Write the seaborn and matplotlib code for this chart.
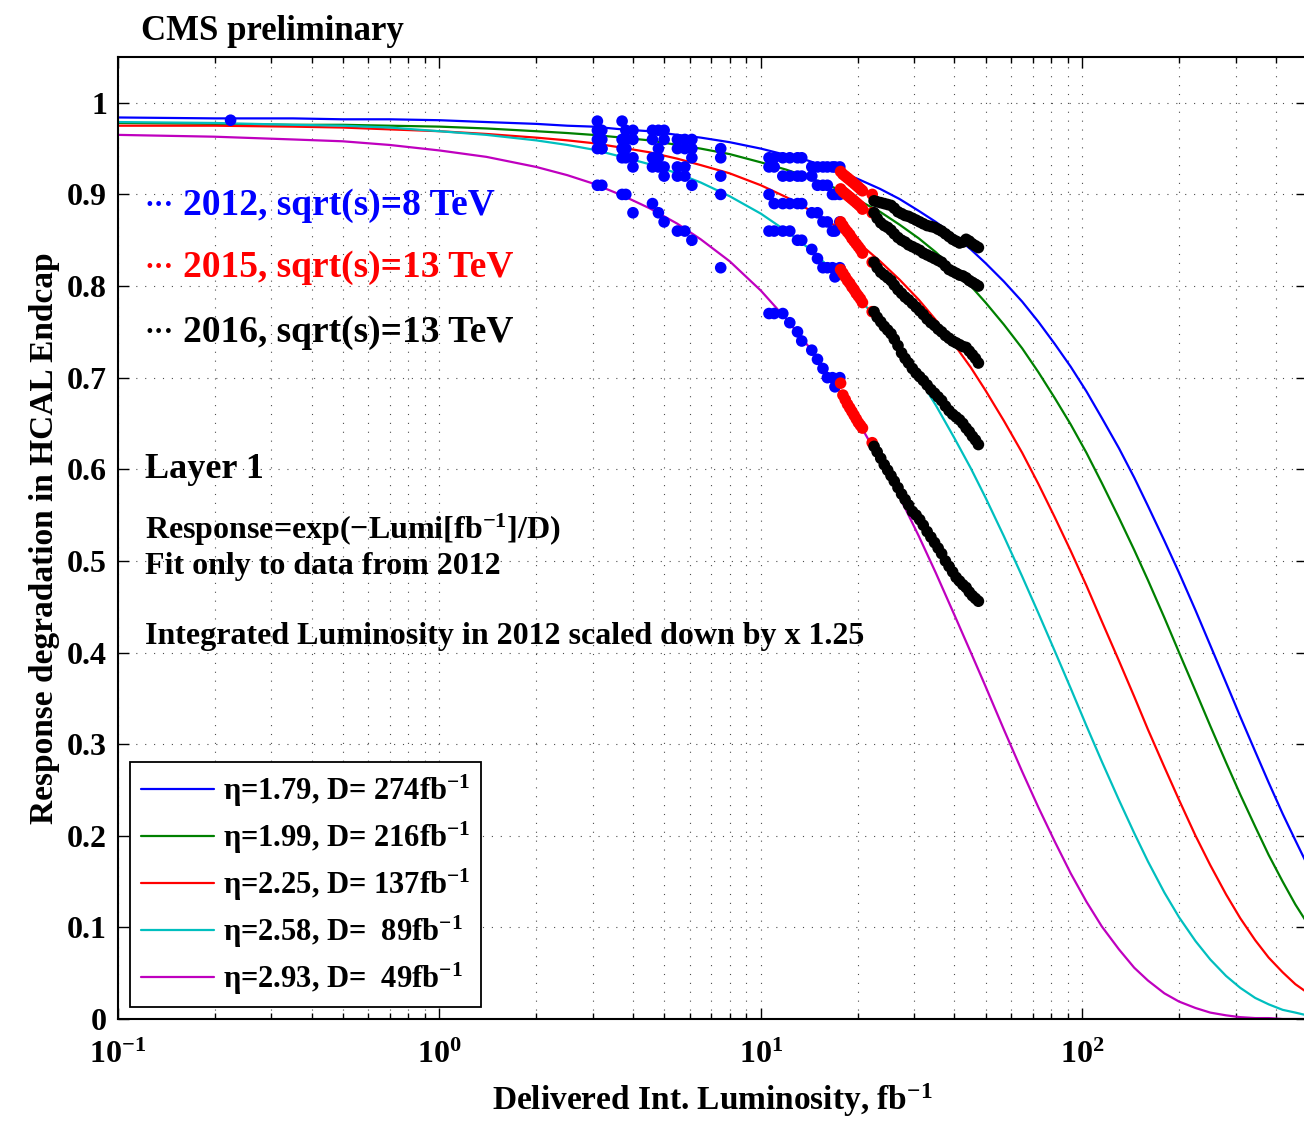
import matplotlib
matplotlib.use("Agg")
import matplotlib.pyplot as plt
from matplotlib.lines import Line2D
from matplotlib.ticker import LogLocator, NullLocator
import seaborn as sns
import pandas as pd

# fitted curves
lumi_curve = [0.1, 0.2, 0.35, 0.5, 0.7, 1, 1.4, 2, 2.5, 3,
              3.7, 4.5, 5.5, 6.5, 8, 10, 12, 14, 17, 20,
              23.5, 27, 31, 35, 40, 45, 50, 57, 65, 73,
              82, 92, 103, 115, 130, 145, 160, 180, 200, 225,
              250, 280, 310, 345, 380, 420, 460, 500]
fit_179 = [0.984, 0.983, 0.983, 0.982, 0.982, 0.981, 0.979, 0.977, 0.975, 0.974,
           0.971, 0.969, 0.965, 0.962, 0.957, 0.950, 0.943, 0.937, 0.927, 0.917,
           0.906, 0.895, 0.882, 0.870, 0.855, 0.840, 0.825, 0.805, 0.783, 0.761,
           0.737, 0.712, 0.685, 0.656, 0.623, 0.591, 0.560, 0.522, 0.487, 0.446,
           0.408, 0.367, 0.330, 0.292, 0.258, 0.224, 0.195, 0.169]
fit_199 = [0.978, 0.977, 0.976, 0.976, 0.975, 0.974, 0.972, 0.969, 0.967, 0.965,
           0.962, 0.959, 0.954, 0.950, 0.944, 0.935, 0.927, 0.919, 0.907, 0.894,
           0.881, 0.867, 0.852, 0.837, 0.818, 0.800, 0.782, 0.758, 0.732, 0.706,
           0.678, 0.649, 0.618, 0.585, 0.547, 0.512, 0.479, 0.438, 0.400, 0.358,
           0.320, 0.280, 0.245, 0.210, 0.179, 0.150, 0.125, 0.105]
fit_225 = [0.975, 0.975, 0.974, 0.973, 0.971, 0.969, 0.966, 0.962, 0.959, 0.956,
           0.951, 0.946, 0.939, 0.932, 0.923, 0.910, 0.897, 0.884, 0.866, 0.848,
           0.827, 0.807, 0.785, 0.763, 0.736, 0.711, 0.686, 0.653, 0.618, 0.584,
           0.548, 0.511, 0.473, 0.434, 0.391, 0.352, 0.316, 0.275, 0.239, 0.200,
           0.168, 0.136, 0.110, 0.086, 0.067, 0.051, 0.038, 0.029]
fit_258 = [0.979, 0.978, 0.976, 0.975, 0.973, 0.969, 0.965, 0.959, 0.954, 0.949,
           0.941, 0.933, 0.923, 0.913, 0.898, 0.879, 0.860, 0.842, 0.815, 0.789,
           0.759, 0.731, 0.700, 0.670, 0.634, 0.601, 0.569, 0.527, 0.483, 0.443,
           0.402, 0.361, 0.320, 0.281, 0.239, 0.203, 0.172, 0.138, 0.111, 0.085,
           0.065, 0.047, 0.034, 0.023, 0.016, 0.010, 0.007, 0.004]
fit_293 = [0.965, 0.963, 0.960, 0.958, 0.954, 0.948, 0.941, 0.930, 0.921, 0.912,
           0.899, 0.885, 0.868, 0.851, 0.827, 0.795, 0.764, 0.735, 0.693, 0.653,
           0.610, 0.570, 0.527, 0.487, 0.441, 0.400, 0.363, 0.316, 0.270, 0.231,
           0.194, 0.159, 0.128, 0.101, 0.076, 0.056, 0.042, 0.028, 0.019, 0.012,
           0.007, 0.004, 0.002, 0.001, 0.001, 0.000, 0.000, 0.000]

fit_labels = ["η=1.79, D= 274fb$^{-1}$", "η=1.99, D= 216fb$^{-1}$", "η=2.25, D= 137fb$^{-1}$",
              "η=2.58, D=  89fb$^{-1}$", "η=2.93, D=  49fb$^{-1}$"]
fit_colors = ["#0000ff", "#008000", "#ff0000", "#00bfbf", "#bf00bf"]

# 2012 data (one early point + common lumi values)
lumi_early = [0.224]
resp_early = [0.981]
lumi_2012 = [3.1, 3.2, 3.7, 3.8, 4.0, 4.6, 4.8, 5.0, 5.5, 5.8, 6.1, 7.5, 10.6, 11.0, 11.7, 12.3,
             13.0, 13.4, 14.4, 15.0, 15.6, 16.1, 16.7, 17.0, 17.6]
d2012_179 = [0.98, 0.97, 0.98, 0.97, 0.97, 0.97, 0.97, 0.97, 0.96, 0.96, 0.96, 0.95, 0.94, 0.94, 0.94,
             0.94, 0.94, 0.94, 0.93, 0.93, 0.93, 0.93, 0.93, 0.93, 0.93]
d2012_199 = [0.97, 0.96, 0.96, 0.96, 0.96, 0.96, 0.95, 0.96, 0.95, 0.95, 0.95, 0.94, 0.93, 0.93, 0.92,
             0.92, 0.92, 0.92, 0.92, 0.91, 0.91, 0.91, 0.90, 0.90, 0.90]
d2012_225 = [0.96, 0.95, 0.95, 0.95, 0.94, 0.94, 0.94, 0.93, 0.93, 0.93, 0.94, 0.92, 0.90, 0.89, 0.89,
             0.89, 0.89, 0.89, 0.88, 0.88, 0.87, 0.87, 0.86, 0.86, 0.87]
d2012_258 = [0.95, 0.95, 0.94, 0.94, 0.93, 0.93, 0.93, 0.92, 0.92, 0.92, 0.91, 0.90, 0.86, 0.86, 0.86,
             0.86, 0.85, 0.85, 0.84, 0.83, 0.82, 0.82, 0.82, 0.81, 0.82]
d2012_293 = [0.91, 0.91, 0.90, 0.90, 0.88, 0.89, 0.88, 0.87, 0.86, 0.86, 0.85, 0.82, 0.77, 0.77, 0.77,
             0.76, 0.75, 0.74, 0.73, 0.72, 0.71, 0.70, 0.70, 0.69, 0.70]

# 2015 data
lumi_2015 = [17.7, 18.0, 18.3, 18.6, 18.9, 19.2, 19.5, 19.8, 20.1, 20.4, 20.7, 22.2]
d2015_179 = [0.925, 0.922, 0.920, 0.918, 0.916, 0.914, 0.912, 0.910, 0.908, 0.906, 0.904, 0.900]
d2015_199 = [0.906, 0.903, 0.901, 0.899, 0.897, 0.895, 0.893, 0.891, 0.889, 0.887, 0.884, 0.880]
d2015_225 = [0.870, 0.866, 0.862, 0.859, 0.856, 0.852, 0.849, 0.846, 0.843, 0.840, 0.836, 0.826]
d2015_258 = [0.818, 0.814, 0.810, 0.806, 0.803, 0.799, 0.796, 0.792, 0.789, 0.786, 0.782, 0.772]
d2015_293 = [0.694, 0.681, 0.676, 0.671, 0.667, 0.663, 0.659, 0.655, 0.651, 0.648, 0.645, 0.629]

# 2016 data
lumi_2016 = [22.5, 23.0, 23.6, 24.2, 24.8, 25.4, 26.0, 26.7, 27.4, 28.1, 28.8, 29.6, 30.4, 31.2, 32.0,
             32.9, 33.8, 34.7, 35.6, 36.5, 37.5, 38.5, 39.5, 40.5, 41.5, 42.5, 43.5, 44.5, 45.5, 46.5, 47.5]
d2016_179 = [0.893, 0.892, 0.891, 0.890, 0.889, 0.888, 0.885, 0.881, 0.879, 0.877, 0.876, 0.874, 0.872,
             0.870, 0.868, 0.866, 0.865, 0.864, 0.862, 0.860, 0.857, 0.854, 0.851, 0.849, 0.847, 0.848,
             0.851, 0.849, 0.846, 0.844, 0.842]
d2016_199 = [0.880, 0.874, 0.869, 0.866, 0.864, 0.861, 0.857, 0.853, 0.850, 0.848, 0.845, 0.843, 0.841,
             0.839, 0.836, 0.834, 0.832, 0.830, 0.828, 0.826, 0.822, 0.818, 0.816, 0.814, 0.812, 0.811,
             0.809, 0.806, 0.804, 0.802, 0.800]
d2016_225 = [0.826, 0.820, 0.815, 0.812, 0.809, 0.806, 0.801, 0.796, 0.792, 0.788, 0.785, 0.781, 0.777,
             0.773, 0.769, 0.764, 0.760, 0.757, 0.753, 0.750, 0.746, 0.743, 0.740, 0.738, 0.736, 0.734,
             0.733, 0.729, 0.725, 0.721, 0.716]
d2016_258 = [0.772, 0.766, 0.761, 0.756, 0.752, 0.748, 0.742, 0.735, 0.727, 0.721, 0.716, 0.710, 0.705,
             0.701, 0.697, 0.692, 0.687, 0.683, 0.679, 0.675, 0.669, 0.664, 0.660, 0.657, 0.654, 0.650,
             0.645, 0.641, 0.636, 0.632, 0.627]
d2016_293 = [0.625, 0.619, 0.612, 0.605, 0.599, 0.593, 0.587, 0.580, 0.573, 0.567, 0.561, 0.554, 0.550,
             0.545, 0.539, 0.532, 0.526, 0.520, 0.514, 0.508, 0.500, 0.494, 0.488, 0.482, 0.478, 0.474,
             0.471, 0.466, 0.462, 0.459, 0.456]

# long tables for seaborn
curves = pd.concat([pd.DataFrame({"lumi": lumi_curve, "resp": r, "fit": lab})
                    for r, lab in zip([fit_179, fit_199, fit_225, fit_258, fit_293], fit_labels)])

frames = [pd.DataFrame({"lumi": lumi_early, "resp": resp_early, "year": "2012"})]
for year, xs, series in [("2012", lumi_2012, [d2012_179, d2012_199, d2012_225, d2012_258, d2012_293]),
                         ("2015", lumi_2015, [d2015_179, d2015_199, d2015_225, d2015_258, d2015_293]),
                         ("2016", lumi_2016, [d2016_179, d2016_199, d2016_225, d2016_258, d2016_293])]:
    for ys in series:
        frames.append(pd.DataFrame({"lumi": xs, "resp": ys, "year": year}))
points = pd.concat(frames)

sns.set_style("ticks")
plt.rcParams["font.family"] = ["Liberation Serif", "DejaVu Serif"]
plt.rcParams["font.weight"] = "bold"
plt.rcParams["axes.labelweight"] = "bold"
plt.rcParams["text.color"] = "black"
plt.rcParams["axes.labelcolor"] = "black"
plt.rcParams["mathtext.fontset"] = "custom"
plt.rcParams["mathtext.rm"] = "Liberation Serif:bold"
plt.rcParams["mathtext.bf"] = "Liberation Serif:bold"
plt.rcParams["mathtext.it"] = "Liberation Serif:bold:italic"
plt.rcParams["mathtext.default"] = "rm"

fig = plt.figure(figsize=(13.04, 11.21), dpi=100)
ax = fig.add_axes([118 / 1304, 102 / 1121, 1189 / 1304, 962 / 1121])

sns.lineplot(data=curves, x="lumi", y="resp", hue="fit", palette=dict(zip(fit_labels, fit_colors)),
             linewidth=1.6, legend=False, ax=ax, zorder=2)
sns.scatterplot(data=points, x="lumi", y="resp", hue="year",
                palette={"2012": "#0000ff", "2015": "#ff0000", "2016": "black"},
                s=70, linewidth=0, legend=False, ax=ax, zorder=3)

ax.set_xscale("log")
ax.set_xlim(0.1, 500)
ax.set_ylim(0, 1.05)
ax.set_yticks([0, 0.1, 0.2, 0.3, 0.4, 0.5, 0.6, 0.7, 0.8, 0.9, 1.0])
ax.set_yticklabels(["0", "0.1", "0.2", "0.3", "0.4", "0.5", "0.6", "0.7", "0.8", "0.9", "1"])
ax.xaxis.set_minor_locator(LogLocator(base=10, subs=range(2, 10)))
ax.yaxis.set_minor_locator(NullLocator())
ax.tick_params(which="both", direction="in", top=True, right=True, labelsize=23, width=1,
               colors="black", labelcolor="black")
ax.tick_params(which="major", length=8)
ax.tick_params(which="minor", length=4)
ax.tick_params(axis="y", which="major", pad=8)
ax.tick_params(axis="x", which="major", pad=16)
ax.grid(True, which="major", axis="both", linestyle=(0, (1, 7)), color="0.3", linewidth=0.8)
ax.grid(True, which="minor", axis="x", linestyle=(0, (1, 7)), color="0.3", linewidth=0.8)
for sp in ax.spines.values():
    sp.set_linewidth(1.5)
    sp.set_color("black")

ax.set_xlabel("Delivered Int. Luminosity, fb$^{-1}$", fontsize=24, labelpad=8)
ax.set_ylabel("Response degradation in HCAL Endcap", fontsize=24, labelpad=5)

ax.text(0.0193, 1.027, "CMS preliminary", transform=ax.transAxes, fontsize=25, va="center")

for y, txt, col in [(0.846, "2012, sqrt(s)=8 TeV", "#0000ff"),
                    (0.781, "2015, sqrt(s)=13 TeV", "#ff0000"),
                    (0.714, "2016, sqrt(s)=13 TeV", "black")]:
    ax.text(0.0227, y, "···", transform=ax.transAxes, fontsize=21, color=col, va="center")
    ax.text(0.0547, y, txt, transform=ax.transAxes, fontsize=27, color=col, va="center")

ax.text(0.0227, 0.571, "Layer 1", transform=ax.transAxes, fontsize=26, va="center")
ax.text(0.0227, 0.508, "Response=exp(−Lumi[fb$^{-1}$]/D)", transform=ax.transAxes, fontsize=23, va="center")
ax.text(0.0227, 0.470, "Fit only to data from 2012", transform=ax.transAxes, fontsize=23, va="center")
ax.text(0.0227, 0.398, "Integrated Luminosity in 2012 scaled down by x 1.25", transform=ax.transAxes,
        fontsize=23, va="center")

handles = [Line2D([0], [0], color=c, lw=1.6, label=l) for c, l in zip(fit_colors, fit_labels)]
leg = ax.legend(handles=handles, loc="lower left", bbox_to_anchor=(0.010, 0.012), borderaxespad=0,
                fontsize=22, handlelength=2.4, handletextpad=0.3, labelspacing=0.35,
                frameon=True, fancybox=False, edgecolor="black", framealpha=1, borderpad=0.35)
leg.get_frame().set_linewidth(1.3)

fig.savefig("out.png", dpi=100)
